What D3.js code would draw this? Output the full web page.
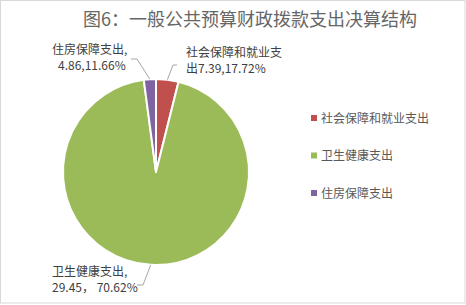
<!DOCTYPE html>
<html>
<head>
<meta charset="utf-8">
<script src="https://cdn.jsdelivr.net/npm/d3@7"></script>
<style>
  body { margin: 0; background: #fff; }
  text { font-family: "Microsoft YaHei", "Noto Sans CJK SC", sans-serif; }
</style>
</head>
<body>
<div id="chart"></div>
<script>
// categories, in drawing order (clockwise from 12 o'clock)
const categories = ['社会保障和就业支出', '卫生健康支出', '住房保障支出']
const amounts = [7.39, 29.45, 4.86]
const percents = ['17.72%', '70.62%', '11.66%']
// slice sizes as drawn in the picture (share of the circle, %)
const sliceShares = [3.9, 94.0, 2.1]
const colors = ['#C0504D', '#9BBB59', '#8064A2']
const legendOrder = [0, 1, 2]

const width = 466, height = 305
const cx = 156, cy = 172, r = 93

const svg = d3.select('#chart').append('svg')
  .attr('width', width)
  .attr('height', height)

svg.append('rect')
  .attr('x', 0.5).attr('y', 0.5)
  .attr('width', 464.5).attr('height', 302.5)
  .attr('fill', '#fff')
  .attr('stroke', '#d9d9d9')

svg.append('text')
  .attr('x', 250).attr('y', 26)
  .attr('text-anchor', 'middle')
  .attr('font-size', 18)
  .attr('fill', '#666')
  .text('图6：一般公共预算财政拨款支出决算结构')

const pie = d3.pie().sort(null).value(d => d)
const arcs = pie(sliceShares)
const arc = d3.arc().innerRadius(0).outerRadius(r)

const g = svg.append('g').attr('transform', `translate(${cx},${cy})`)
g.selectAll('path')
  .data(arcs)
  .enter()
  .append('path')
  .attr('d', arc)
  .attr('fill', (d, i) => colors[i])
  .attr('stroke', '#fff')
  .attr('stroke-width', 2)
  .attr('stroke-linejoin', 'round')

// leader lines and data labels (two lines each)
const labelArc = d3.arc().innerRadius(r).outerRadius(r)
const labels = [
  { lines: ['社会保障和就业支', '出' + amounts[0] + ',' + percents[0]], tx: [186, 186], ty: 57, elbow: [173, 65], end: [177, 65] },
  { lines: ['卫生健康支出,', amounts[1] + '，  ' + percents[1]], tx: [52, 52], ty: 276, elbow: [143, 285], end: [137, 285] },
  { lines: ['住房保障支出,', amounts[2] + ',' + percents[2]], tx: [52, 58], ty: 54, elbow: [137, 59], end: [131, 59] }
]

labels.forEach((l, i) => {
  const p = labelArc.centroid(arcs[i])
  const start = [cx + p[0], cy + p[1]]
  svg.append('polyline')
    .attr('points', [start, l.elbow, l.end].map(q => q.join(',')).join(' '))
    .attr('fill', 'none')
    .attr('stroke', '#a6a6a6')
    .attr('stroke-width', 1)
  l.lines.forEach((s, j) => {
    svg.append('text')
      .attr('x', l.tx[j]).attr('y', l.ty + 16 * j)
      .attr('font-size', 12)
      .attr('fill', '#404040')
      .text(s)
  })
})

// legend
const leg = svg.selectAll('.leg')
  .data(legendOrder)
  .enter()
  .append('g')
  .attr('transform', (d, i) => `translate(311, ${118 + 37.5 * i})`)
leg.append('rect')
  .attr('x', 0).attr('y', -3)
  .attr('width', 6).attr('height', 6)
  .attr('fill', d => colors[d])
leg.append('text')
  .attr('x', 10).attr('y', 4.5)
  .attr('font-size', 12)
  .attr('fill', '#595959')
  .text(d => categories[d])
</script>
</body>
</html>
